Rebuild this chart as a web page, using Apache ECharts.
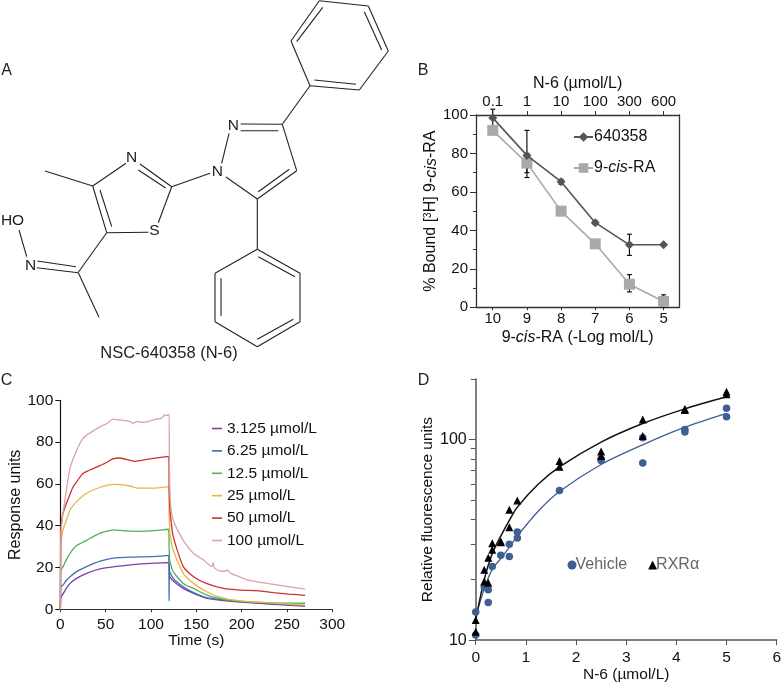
<!DOCTYPE html>
<html><head><meta charset="utf-8">
<style>html,body{margin:0;padding:0;background:#fff}#c{width:784px;height:684px}</style>
<script src="https://cdn.jsdelivr.net/npm/echarts@6/dist/echarts.min.js"></script>
</head><body><div id="c"></div>
<script>
// ---------- Panel B ----------
const logMol = [10, 9, 8, 7, 6, 5];
const n6Labels = ['0.1', '1', '10', '100', '300', '600'];
const boundN6 = [98.5, 79, 65.3, 44, 32.5, 32.5];
const boundRA = [92, 75, 50, 33, 12, 3];
const errN6 = [[93, 103], [67.5, 92], [64, 66.5], [43, 45], [27, 38], [32, 33]];
const errRA = [[90, 94], [70, 80], [48, 52], [32, 34], [8, 17], [0, 6.5]];
// ---------- Panel C : [seconds, response] ----------
const c3125 = [[0,0],[0.5,5],[1,6],[3,7.3],[7,10.3],[10.7,12.4],[18,14.8],[29,17.2],[44,19.3],[60,20.4],[80,21.4],[100,22],[120,22.3],[120.5,16],[121,15.4],[124.5,13.5],[135.6,10],[147,7.6],[161,5.4],[180,4.2],[199,3.4],[224,2.7],[246,2.1],[270,1.5]];
const c625 = [[0,0],[0.5,10],[1,11],[3,11.6],[7,14],[10.7,15.6],[18,18],[29,20.4],[44,23],[60,24.6],[80,25],[100,25.2],[119.5,25.8],[120,4],[120.6,18],[124.5,14.8],[135.6,10.8],[147,8],[161,5.6],[180,4.5],[199,3.7],[224,2.9],[246,2.3],[270,1.6]];
const c125 = [[0,0],[0.5,18],[1,19],[3,20.4],[7,24],[10.7,26.8],[18,30.5],[29,33],[44,36.4],[60,38],[70,37.5],[88,37.3],[103,37.6],[119.5,38.3],[120,30],[120.5,24],[121,22.8],[124.5,18],[135.6,12.4],[147,10],[161,6.9],[180,4.8],[199,3.8],[224,3.2],[246,3],[270,2.9]];
const c25 = [[0,0],[0.5,30],[1,33],[3,38],[7,43],[10.7,47.5],[18,51.5],[29,55.5],[44,58.4],[58,59.8],[66,59.7],[77,59],[86,58],[103,58],[119.5,58.7],[120,45],[120.5,40],[121,36],[124.5,28.4],[135.6,17.2],[147,12.4],[161,8.5],[180,5.3],[199,4],[224,3.3],[246,2.6],[270,2]];
const c50 = [[0,0],[0.5,38],[1,41],[3,46],[7,51],[10.7,55],[14,58.5],[18,61],[25,65],[40,68],[50,70],[58,72],[66,72.4],[82,70.8],[99,72],[119.5,73.2],[120,60],[120.5,52],[121,47],[124.5,35],[135.6,20.4],[147,15.6],[161,12.4],[180,10],[199,9.2],[217,8.9],[235,8],[252,7.3],[270,6.7]];
const c100 = [[0,0],[0.5,30],[1,38],[3,46],[5,52],[10.7,67.5],[18,76],[25,81.8],[35,85],[44,87.4],[52,89],[58,91],[65,90.6],[77,89.8],[80,89],[84,89.8],[92,89.5],[106,91],[112,91.5],[115,93],[117,92.7],[120,93.3],[120.3,70],[120.7,60],[121.5,51],[124.5,42.7],[135.6,33],[146.7,26.8],[158,23.6],[167,20.4],[168.5,22.3],[170,19.8],[176,18.3],[181,18.2],[184,18.8],[188,17.2],[195,16],[209.6,13.7],[228,12.4],[246,11.2],[270,9.7]];
const cNames = ['3.125 µmol/L', '6.25 µmol/L', '12.5 µmol/L', '25 µmol/L', '50 µmol/L', '100 µmol/L'];
const cColors = ['#7a3ea6', '#3e6fb3', '#4fb05c', '#efb33f', '#c9332c', '#dba3a8'];
// ---------- Panel D ----------
const vehiclePts = [[0,13.8],[0,10.6],[0.17,18.4],[0.25,17.8],[0.25,15.4],[0.33,23.3],[0.5,26.5],[0.67,30],[0.67,26.1],[0.83,34.6],[0.83,32.3],[1.67,55.6],[2.5,78.4],[2.5,79.8],[3.33,102],[3.33,76.3],[4.17,112],[4.17,108.8],[5,143],[5,129.6]];
const rxrPts = [[0,11],[0,12.6],[0.17,22.4],[0.17,19.6],[0.25,25.7],[0.25,19.3],[0.33,30.4],[0.33,28.2],[0.5,31],[0.5,30.7],[0.67,44.6],[0.67,36.5],[0.83,49.6],[1.67,78],[1.67,73],[2.5,87],[2.5,82.7],[3.33,125.8],[3.33,104],[4.17,141.7],[4.17,140],[5,173],[5,168]];
const vehicleFit = [[0,13],[0.17,18],[0.33,22.5],[0.5,25.5],[0.67,29],[0.83,33],[1.25,44],[1.67,55],[2.5,75],[3.33,94],[4.17,115],[5,135]];
const rxrFit = [[0,12.6],[0.17,20],[0.33,27],[0.5,33],[0.67,39.5],[0.83,46],[1.25,60],[1.67,73],[2.5,97],[3.33,120],[4.17,142],[5,163]];

const FONT = '"Liberation Sans", Arial, sans-serif';
// ---------- Structure (panel A) ----------
const bonds = [
 [319.3,0.7,368.3,6],[368.3,6,388.3,51],[388.3,51,359.3,90],[359.3,90,310,85.7],[310,85.7,291,41],[291,41,319.3,0.7],
 [322.7,7.3,296.7,41.7],[364.3,11.7,381.7,50],[314.3,80,356,84.3],[310,85.7,282.3,124.3],
 [240.7,124,282.3,124.3],[240.7,130.7,278.3,130.7],[282.3,124.3,296.7,170.7],[296.7,170.7,257.3,199],[289.3,169.3,258.3,191.7],[257.3,199,226,177],[229,133.3,221.7,163.3],
 [210,173.3,171.7,186.7],[171.7,186.7,140,164],[165.7,188,138.3,170],[126,163.3,92.7,186],[92.7,186,106.7,232.7],[100,190,111.7,226.7],
 [106.7,232.7,148.3,232.3],[158.3,222.7,171.7,186.7],[92.7,186,45,171],[106.7,232.7,78.3,272.3],[37.3,261,76,266.7],[36.7,267.7,78.3,272.7],[26.7,256.7,19,230],[78.3,272.7,99,317.3],
 [257.3,199,257.3,249.3],[257.3,249.3,300,273.3],[300,273.3,300,321.7],[300,321.7,257.3,346.7],[257.3,346.7,215,321.7],[215,321.7,215,273.3],[215,273.3,257.3,249.3],
 [258.3,256.7,295,276.7],[293.3,319.3,257.3,339.3],[221,278.3,221,316]
];
const textMarks = [
 ['A',6.5,71,16],['B',423,71,16],['C',6.5,381,16],['D',423.5,381,16],
 ['NSC-640358 (N-6)',169,353,16.5],
 ['HO',12.5,220.5,15.5],['N',30.7,265.5,15.5],['S',154.3,230.5,15.5],['N',131.7,157.3,15.5],['N',233.3,126,15.5],['N',217.3,171.7,15.5]
];
const graphic = [
 ...bonds.map(b => ({type:'line',silent:true,shape:{x1:b[0],y1:b[1],x2:b[2],y2:b[3]},style:{stroke:'#222',lineWidth:1.1}})),
 ...textMarks.map(t => ({type:'text',silent:true,x:t[1],y:t[2],style:{text:t[0],fill:'#222',fontFamily:FONT,fontSize:t[3],align:'center',verticalAlign:'middle'}}))
];

const errSeries = (name, err) => ({
  type:'custom', xAxisIndex:0, yAxisIndex:0, z:1, clip:false, silent:true,
  data: err.map((e,i) => [logMol[i], e[0], e[1]]),
  encode:{x:0,y:[1,2]},
  renderItem(params, api){
    const lo = api.coord([api.value(0), api.value(1)]);
    const hi = api.coord([api.value(0), api.value(2)]);
    const st = {stroke:'#111', lineWidth:1.2, fill:'none'};
    const w = 2.5;
    return {type:'group',children:[
      {type:'line',shape:{x1:lo[0],y1:lo[1],x2:hi[0],y2:hi[1]},style:st},
      {type:'line',shape:{x1:lo[0]-w,y1:lo[1],x2:lo[0]+w,y2:lo[1]},style:st},
      {type:'line',shape:{x1:hi[0]-w,y1:hi[1],x2:hi[0]+w,y2:hi[1]},style:st}
    ]};
  }
});

const lab = (o) => Object.assign({color:'#111',fontFamily:FONT,fontSize:15.5},o||{});
const bLine = {lineStyle:{color:'#333',width:1.3}};
const cSeries = [c3125,c625,c125,c25,c50,c100].map((d,i)=>({
  type:'line',name:cNames[i],xAxisIndex:2,yAxisIndex:2,data:d,showSymbol:false,symbol:'none',clip:false,
  smooth:0.2,
  lineStyle:{color:cColors[i],width:1.3},itemStyle:{color:cColors[i]},z:2+i
}));
const dMinor = [10,20,30,40,50,60,70,80,90,100,200];

const option = {
 animation:false, backgroundColor:'#fff',
 textStyle:{fontFamily:FONT},
 graphic,
 grid:[
  {left:476,top:115,width:203.3,height:192.3},
  {left:60.3,top:400.3,width:272,height:209},
  {left:475.7,top:379,width:302,height:261.7}
 ],
 xAxis:[
  {gridIndex:0,type:'value',inverse:true,min:4.54,max:10.49,position:'bottom',
   name:'{a|9-}{i|cis}{a|-RA (-Log mol/L)}',nameLocation:'middle',nameGap:22,
   nameTextStyle:{rich:{a:lab({fontSize:16}),i:lab({fontSize:16,fontStyle:'italic'})}},
   axisLine:{onZero:false,...bLine},splitLine:{show:false},
   axisTick:{customValues:logMol,length:3,lineStyle:{color:'#333'}},
   axisLabel:{customValues:logMol,margin:4,...lab({fontSize:15})}},
  {gridIndex:0,type:'value',inverse:true,min:4.54,max:10.49,position:'top',
   name:'N-6 (µmol/L)',nameLocation:'middle',nameGap:23,nameTextStyle:lab({fontSize:16}),
   axisLine:{onZero:false,...bLine},splitLine:{show:false},
   axisTick:{customValues:logMol,length:4,lineStyle:{color:'#333'}},
   axisLabel:{customValues:logMol,margin:6,formatter:v=>n6Labels[logMol.indexOf(v)],...lab({fontSize:15})}},
  {gridIndex:1,type:'value',min:0,max:300,interval:50,
   name:'Time (s)',nameLocation:'middle',nameGap:23,nameTextStyle:lab({fontSize:15.5}),
   axisLine:{lineStyle:{color:'#333',width:1.2}},splitLine:{show:false},
   axisTick:{length:3,lineStyle:{color:'#333'}},axisLabel:{margin:7,...lab({fontSize:15.5})}},
  {gridIndex:2,type:'value',min:0,max:6,interval:1,
   name:'N-6 (µmol/L)',nameLocation:'middle',nameGap:24,nameTextStyle:lab({fontSize:15.5}),
   axisLine:{onZero:false,lineStyle:{color:'#555',width:1.5}},splitLine:{show:false},
   axisTick:{length:5,lineStyle:{color:'#555'}},axisLabel:{margin:10,...lab({fontSize:15.5})}}
 ],
 yAxis:[
  {gridIndex:0,type:'value',min:0,max:100,interval:20,
   name:'{a|% Bound [}{s|3}{a|H] 9-}{i|cis}{a|-RA}',nameLocation:'middle',nameGap:21,
   nameTextStyle:{rich:{a:lab({fontSize:16}),i:lab({fontSize:16,fontStyle:'italic'}),s:lab({fontSize:10,verticalAlign:'top',padding:[0,0,6,0]})}},
   axisLine:{show:true,...bLine},splitLine:{show:false},
   axisTick:{length:6,lineStyle:{color:'#333'}},
   minorTick:{show:true,splitNumber:2,length:3,lineStyle:{color:'#333'}},minorSplitLine:{show:false},
   axisLabel:{margin:8,...lab({fontSize:15})}},
  {gridIndex:0,type:'value',min:0,max:100,position:'right',
   axisLine:{show:true,...bLine},axisTick:{show:false},axisLabel:{show:false},splitLine:{show:false}},
  {gridIndex:1,type:'value',min:0,max:100,interval:20,
   name:'Response units',nameLocation:'middle',nameGap:27,nameTextStyle:lab({fontSize:16}),
   axisLine:{show:true,lineStyle:{color:'#111',width:1.2}},splitLine:{show:false},
   axisTick:{length:5,lineStyle:{color:'#111'}},axisLabel:{margin:7,...lab({fontSize:15.5})}},
  {gridIndex:2,type:'log',logBase:10,min:10,max:200,
   name:'Relative fluorescence units',nameLocation:'middle',nameGap:25,nameTextStyle:lab({fontSize:15.5}),
   axisLine:{show:true,onZero:false,lineStyle:{color:'#555',width:1.5}},splitLine:{show:false},minorTick:{show:false},
   axisTick:{customValues:dMinor,length:5,lineStyle:{color:'#555'}},
   axisLabel:{customValues:[10,100],margin:9,...lab({fontSize:16})}},
  {gridIndex:2,type:'log',logBase:10,min:10,max:200,position:'left',
   axisLine:{show:false},splitLine:{show:false},minorTick:{show:false},
   axisTick:{customValues:[10,100],length:7,lineStyle:{color:'#555'}},axisLabel:{show:false}}
 ],
 legend:[
  {left:573,top:129,padding:0,orient:'vertical',itemGap:15,itemWidth:19,itemHeight:12,data:['640358','9-cis-RA'],
   formatter:n=>n==='640358'?'{a|640358}':'{a|9-}{i|cis}{a|-RA}',
   textStyle:{padding:[0,0,0,-4],rich:{a:lab({fontSize:16}),i:lab({fontSize:16,fontStyle:'italic'})}}},
  {left:212,top:420.5,padding:0,orient:'vertical',icon:'rect',itemGap:6.4,itemWidth:10,itemHeight:1.6,data:cNames,textStyle:lab({fontSize:15.5})},
  {left:567.5,top:557,padding:0,orient:'horizontal',itemGap:21,itemWidth:9,itemHeight:9,data:['Vehicle','RXRα'],textStyle:lab({fontSize:16,color:'#666',padding:[0,0,0,-6]})}
 ],
 series:[
  errSeries('e1',errN6), errSeries('e2',errRA),
  {type:'line',name:'9-cis-RA',xAxisIndex:0,yAxisIndex:0,data:logMol.map((x,i)=>[x,boundRA[i]]),symbol:'rect',symbolSize:11,clip:false,
   lineStyle:{color:'#aaa',width:1.6},itemStyle:{color:'#a9a9a9'},z:3},
  {type:'line',name:'640358',xAxisIndex:0,yAxisIndex:0,data:logMol.map((x,i)=>[x,boundN6[i]]),symbol:'diamond',symbolSize:9,clip:false,
   lineStyle:{color:'#555',width:1.6},itemStyle:{color:'#555'},z:4},
  ...cSeries,
  {type:'line',xAxisIndex:3,yAxisIndex:3,data:vehicleFit,smooth:0.3,symbol:'none',lineStyle:{color:'#3f5f92',width:1.3},z:3,silent:true},
  {type:'line',xAxisIndex:3,yAxisIndex:3,data:rxrFit,smooth:0.3,symbol:'none',lineStyle:{color:'#111',width:1.5},z:3,silent:true},
  {type:'scatter',name:'Vehicle',xAxisIndex:3,yAxisIndex:3,data:vehiclePts,symbol:'circle',symbolSize:7.5,itemStyle:{color:'#3f5f92',opacity:1},z:4,clip:false},
  {type:'scatter',name:'RXRα',xAxisIndex:3,yAxisIndex:3,data:rxrPts,symbol:'triangle',symbolSize:8,itemStyle:{color:'#000',opacity:1},z:5,clip:false}
 ]
};
const chart = echarts.init(document.getElementById('c'),null,{renderer:'canvas',width:784,height:684});
chart.setOption(option);
</script></body></html>
